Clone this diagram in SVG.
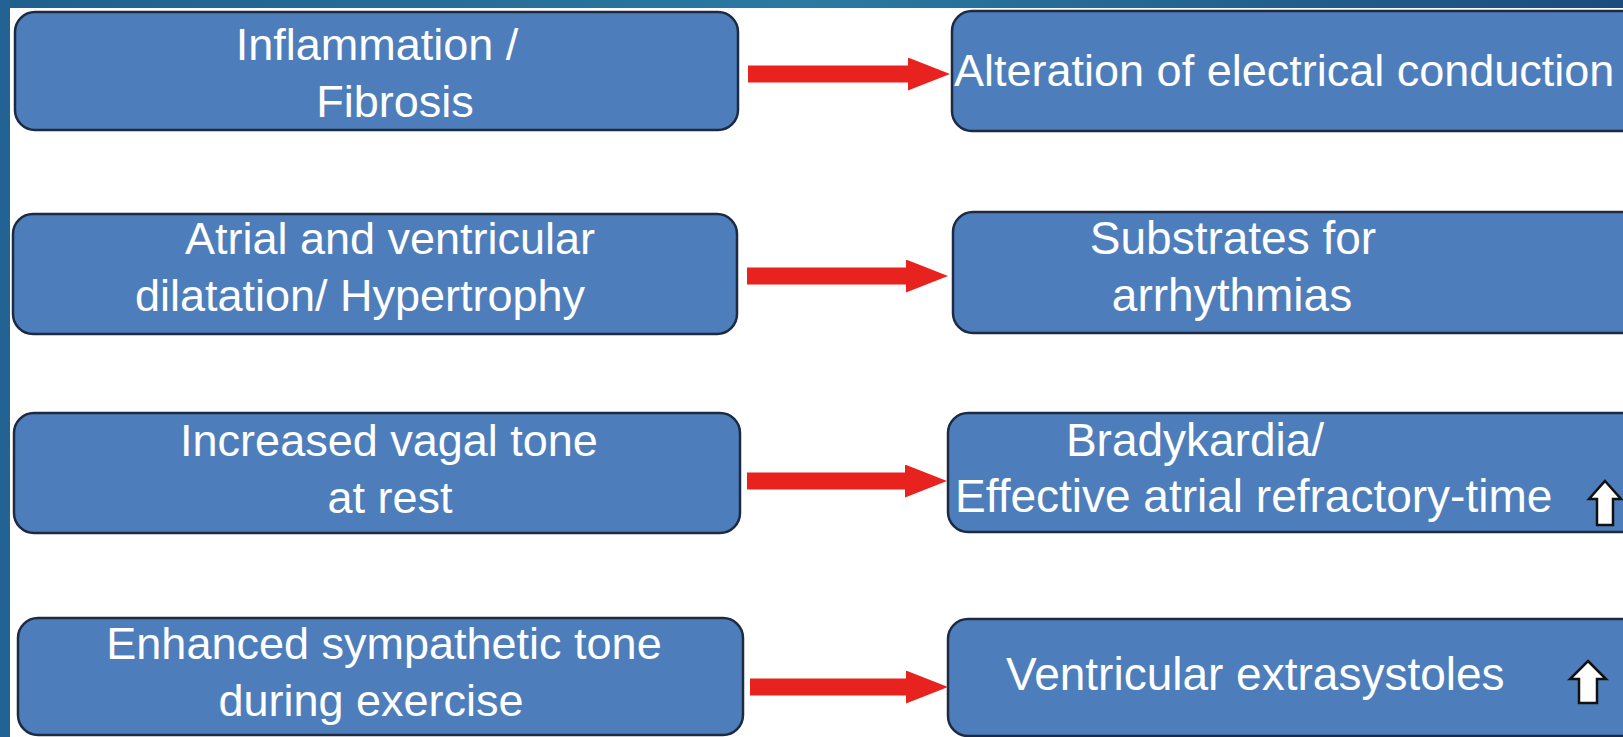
<svg xmlns="http://www.w3.org/2000/svg" width="1623" height="737" viewBox="0 0 1623 737">
  <defs>
    <linearGradient id="frameTop" x1="0" y1="0" x2="1" y2="0">
      <stop offset="0" stop-color="#1f5f8e"/>
      <stop offset="0.5" stop-color="#2a7aa2"/>
      <stop offset="1" stop-color="#1b4c7c"/>
    </linearGradient>
    <!-- block arrowhead, drawn in user units so it keeps its size -->
    <marker id="redHead" viewBox="0 0 42 33" refX="1" refY="16.5" markerWidth="42" markerHeight="33" markerUnits="userSpaceOnUse" orient="auto">
      <path d="M0,0 L42,16.5 L0,33 Z" fill="#e8231f"/>
    </marker>
  </defs>
  <style>
    .box { fill: #4d7ebb; stroke: #1c2a42; stroke-width: 2.5; }
    .lbl { font-family: "Liberation Sans", Arial, sans-serif; font-size: 45px; fill: #ffffff; }
    .big { font-size: 46px; }
    .mid { text-anchor: middle; }
    .link { stroke: #e8231f; stroke-width: 17; fill: none; stroke-linecap: butt; }
    .up { fill: #ffffff; stroke: #111111; stroke-width: 2.5; stroke-linejoin: miter; }
  </style>

  <!-- slide frame -->
  <rect x="0" y="0" width="1623" height="737" fill="#ffffff"/>
  <rect x="0" y="0" width="1623" height="8" fill="url(#frameTop)"/>
  <rect x="0" y="0" width="10" height="737" fill="#236394"/>

  <!-- cause column -->
  <g id="inflammation">
    <rect class="box" x="15" y="12" width="723" height="118" rx="20"/>
    <text class="lbl mid" x="377" y="60">Inflammation /</text>
    <text class="lbl mid" x="395" y="117">Fibrosis</text>
  </g>
  <g id="dilatation">
    <rect class="box" x="13" y="214" width="724" height="120" rx="20"/>
    <text class="lbl mid" x="390" y="254">Atrial and ventricular</text>
    <text class="lbl mid" x="360" y="311">dilatation/ Hypertrophy</text>
  </g>
  <g id="vagal">
    <rect class="box" x="14" y="413" width="726" height="120" rx="20"/>
    <text class="lbl mid" x="389" y="456">Increased vagal tone</text>
    <text class="lbl mid" x="390" y="513">at rest</text>
  </g>
  <g id="sympathetic">
    <rect class="box" x="18" y="618" width="725" height="117" rx="20"/>
    <text class="lbl mid" x="384" y="659">Enhanced sympathetic tone</text>
    <text class="lbl mid" x="371" y="716">during exercise</text>
  </g>

  <!-- effect column -->
  <g id="conduction">
    <rect class="box" x="952" y="11" width="700" height="120" rx="20"/>
    <text class="lbl" x="954" y="86">Alteration of electrical conduction</text>
  </g>
  <g id="substrates">
    <rect class="box" x="953" y="212" width="700" height="121" rx="20"/>
    <text class="lbl big mid" x="1233" y="254">Substrates for</text>
    <text class="lbl big mid" x="1232" y="311">arrhythmias</text>
  </g>
  <g id="bradykardia">
    <rect class="box" x="948" y="413" width="700" height="119" rx="20"/>
    <text class="lbl big mid" x="1195" y="456">Bradykardia/</text>
    <text class="lbl big" x="955" y="512">Effective atrial refractory-time</text>
    <path class="up" d="M1605,481 L1621,499 L1613,499 L1613,525 L1597,525 L1597,499 L1589,499 Z"/>
  </g>
  <g id="extrasystoles">
    <rect class="box" x="948" y="619" width="700" height="117" rx="20"/>
    <text class="lbl big" x="1006" y="690">Ventricular extrasystoles</text>
    <path class="up" d="M1588,661 L1606,679 L1597,679 L1597,703 L1579,703 L1579,679 L1570,679 Z"/>
  </g>

  <!-- connectors -->
  <g id="connectors">
    <line class="link" x1="748" y1="74" x2="909" y2="74" marker-end="url(#redHead)"/>
    <line class="link" x1="747" y1="276" x2="907" y2="276" marker-end="url(#redHead)"/>
    <line class="link" x1="747" y1="481" x2="906" y2="481" marker-end="url(#redHead)"/>
    <line class="link" x1="750" y1="687" x2="907" y2="687" marker-end="url(#redHead)"/>
  </g>
</svg>
